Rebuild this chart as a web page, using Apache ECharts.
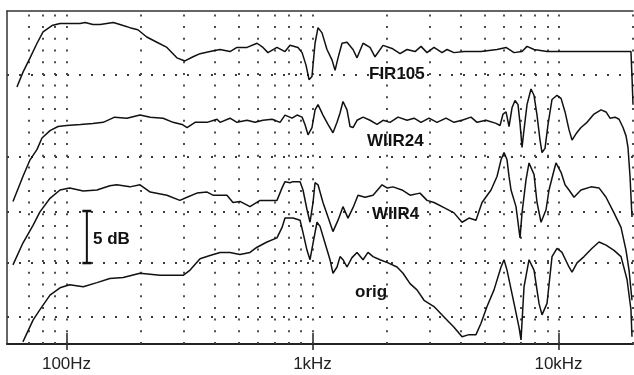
<!DOCTYPE html>
<html><head><meta charset="utf-8">
<script src="https://cdn.jsdelivr.net/npm/echarts@6/dist/echarts.min.js"></script>
<style>html,body{margin:0;padding:0;background:#fff}#c{width:634px;height:375px}</style>
</head><body><div id="c"></div>
<script>
// Frequency (Hz), level (dB, arbitrary reference)
const fir105 = [[62.9,24.7],[66.5,26.1],[71.1,27.5],[75.9,28.9],[80.3,30.0],[87.3,30.6],[94.1,30.8],[100,30.8],[113.5,30.8],[119,30.9],[128,30.7],[137,30.7],[155,30.9],[170,30.6],[181,30.4],[195,30.2],[212,29.5],[233,29.0],[256,28.5],[281,27.5],[303,27.2],[327,27.6],[349,27.9],[383,28.1],[421,28.3],[462,28.1],[493,28.5],[542,28.5],[595,28.9],[629,28.5],[659,28.0],[717,28.5],[773,28.1],[810,28.7],[873,28.5],[907,28.0],[941,26.8],[968,25.4],[995,25.7],[1024,28.9],[1053,30.4],[1093,29.9],[1145,28.3],[1200,27.3],[1235,26.3],[1270,27.5],[1318,28.9],[1381,29.0],[1461,28.3],[1517,27.5],[1605,28.9],[1713,28.5],[1795,27.6],[1935,28.7],[2105,28.4],[2269,27.9],[2422,28.3],[2611,28.1],[2761,28.6],[2921,28.0],[3118,28.5],[3361,28.0],[3522,28.3],[3760,28.0],[4130,28.1],[4842,28.1],[5623,28.3],[6118,28.5],[6595,28.0],[7107,28.1],[7447,28.6],[7950,28.3],[8980,28.1],[19700,28.1],[19890,25.7],[20080,23.0]];
const wiir24 = [[60.6,13.7],[66.5,16.1],[71.1,17.7],[75.9,18.7],[79.5,19.8],[85.7,20.5],[92.4,20.9],[100,21.0],[114,21.1],[128,21.2],[141,21.3],[157,21.8],[176,21.7],[199,22.0],[219,21.8],[247,21.7],[271,21.3],[295,21.1],[309,20.8],[333,21.3],[373,21.3],[409,21.6],[421,21.3],[462,21.7],[493,21.3],[542,21.5],[584,21.3],[629,21.5],[685,21.6],[738,21.3],[773,22.0],[826,21.7],[865,22.0],[907,21.8],[932,21.1],[959,20.1],[995,20.8],[1024,22.5],[1053,23.0],[1103,22.0],[1156,21.1],[1211,20.3],[1258,21.3],[1294,22.2],[1330,23.3],[1381,22.5],[1421,20.9],[1461,20.8],[1517,21.5],[1605,21.8],[1713,21.5],[1829,21.1],[1935,21.5],[2065,21.3],[2227,21.8],[2422,21.5],[2586,21.7],[2761,21.3],[2976,21.7],[3207,21.3],[3489,21.7],[3760,21.3],[4053,21.5],[4409,21.8],[4664,21.3],[5074,21.5],[5571,21.2],[5784,21.0],[5949,22.1],[6118,22.3],[6293,20.9],[6471,22.7],[6656,23.4],[6845,23.0],[6975,21.2],[7107,18.9],[7241,20.6],[7447,23.0],[7730,24.5],[7950,23.9],[8177,22.0],[8410,19.6],[8569,18.4],[8813,18.8],[9064,21.1],[9410,23.5],[9860,23.9],[10240,23.6],[10630,22.3],[11030,20.6],[11350,19.6],[11780,20.2],[12340,20.8],[13060,21.3],[13940,22.1],[14890,22.5],[15600,22.3],[16190,21.7],[16970,21.8],[17620,21.6],[18290,20.8],[18810,20.0],[19160,18.9],[19530,16.1],[19890,12.2]];
const wiir4 = [[60.6,7.6],[66.5,9.7],[73.1,11.4],[78.0,12.7],[85.7,14.0],[94.1,14.8],[103,15.0],[117,14.7],[133,14.8],[150,15.2],[160,15.3],[181,15.1],[199,15.3],[219,14.6],[256,14.3],[289,13.8],[309,14.1],[339,14.5],[373,14.6],[394,14.3],[449,14.3],[475,13.6],[507,13.7],[557,13.2],[612,13.8],[717,13.8],[752,15.0],[773,15.6],[810,15.5],[833,15.6],[890,15.6],[915,14.8],[950,12.9],[977,11.7],[1005,13.6],[1024,15.5],[1053,15.3],[1103,13.6],[1156,12.2],[1211,10.8],[1270,11.9],[1330,13.2],[1394,12.1],[1461,13.1],[1531,14.3],[1635,14.1],[1762,14.3],[1917,15.3],[2009,15.0],[2124,15.1],[2311,14.8],[2491,14.3],[2735,14.5],[2921,13.8],[3118,13.6],[3424,13.1],[3760,12.6],[4053,11.7],[4327,12.1],[4618,11.9],[4887,13.6],[5317,14.8],[5623,16.1],[5839,17.7],[6005,18.4],[6175,17.7],[6293,16.1],[6411,14.8],[6717,13.2],[6975,10.2],[7107,12.6],[7378,15.8],[7588,17.4],[7950,16.3],[8177,13.6],[8491,11.7],[8896,12.9],[9149,14.8],[9588,16.7],[9768,17.4],[10240,16.5],[10630,15.3],[11030,14.8],[11560,14.1],[12340,14.8],[13560,15.1],[14610,15.0],[15600,14.1],[16810,12.6],[17950,11.2],[18810,9.0],[19350,7.1],[19890,4.2]];
const orig = [[66.5,0.2],[73.1,2.3],[78.0,3.3],[85.7,4.7],[94.1,5.4],[103,5.7],[117,5.5],[133,5.9],[150,6.3],[170,6.4],[199,6.8],[240,6.6],[298,6.6],[318,7.1],[349,8.2],[383,8.5],[421,8.8],[462,8.8],[507,8.6],[557,8.8],[595,9.3],[653,9.8],[717,10.2],[752,11.2],[773,12.1],[833,12.1],[890,11.9],[915,10.7],[950,9.0],[977,8.1],[1005,9.7],[1043,11.7],[1073,11.3],[1124,9.7],[1178,8.1],[1211,6.8],[1258,7.4],[1294,8.4],[1330,8.1],[1381,7.4],[1447,8.3],[1517,8.8],[1605,8.1],[1681,8.8],[1762,8.4],[1881,8.1],[2027,7.8],[2206,7.4],[2333,6.8],[2491,5.8],[2659,5.2],[2840,4.2],[3118,3.6],[3424,2.6],[3760,1.6],[4053,0.7],[4327,0.9],[4618,0.9],[4842,2.0],[5121,3.6],[5468,5.2],[5839,7.4],[6005,8.1],[6175,7.1],[6595,3.9],[6910,1.6],[7041,0.4],[7241,5.5],[7588,8.1],[7950,7.1],[8332,3.9],[8569,2.8],[8980,3.9],[9410,8.4],[9860,9.2],[10330,8.8],[11030,7.4],[11350,6.9],[11890,7.8],[12700,8.4],[13690,9.2],[14610,9.8],[15600,9.5],[16810,9.0],[17950,8.4],[18990,6.2],[19700,3.3],[19890,0.7]];
const scaleBar = [[121,12.78],[121,7.78]];
const scaleText = '5 dB';
const curveNames = ['FIR105','WIIR24','WIIR4','orig'];
const gridFreqs = [70,80,90,100,200,300,400,500,600,700,800,900,1000,2000,3000,4000,5000,6000,7000,8000,9000,10000,20000];
const gridRows = [25.85,17.97,12.73,7.78,2.64];
const tickValues = [100,1000,10000];
const tickLabels = ['100Hz','1kHz','10kHz'];

const chart = echarts.init(document.getElementById('c'), null, {renderer:'canvas'});
const ink = '#111';
function lbl(v){let best=0;for(let i=0;i<tickValues.length;i++){if(Math.abs(Math.log10(v)-Math.log10(tickValues[i]))<Math.abs(Math.log10(v)-Math.log10(tickValues[best])))best=i;}return tickLabels[best];}
const axisBase = {type:'log', logBase:10, min:57.3, max:20080, splitLine:{show:false}, minorTick:{show:false}};
const curve = (name,data)=>({name, type:'line', data, showSymbol:false, symbol:'none', smooth:false, lineStyle:{color:ink, width:1.5}, animation:false, silent:true, z:5});
const labelFont = {fontFamily:'Liberation Sans, Arial, sans-serif', fontWeight:'bold', fontSize:17, fill:'#111'};
chart.setOption({
  animation:false,
  backgroundColor:'#fff',
  grid:{left:7, right:1, top:11, bottom:31, containLabel:false},
  xAxis:[
    Object.assign({}, axisBase, {position:'bottom',
      axisLine:{show:true, lineStyle:{color:'#222', width:2}},
      axisTick:{show:true, inside:false, length:6, customValues:tickValues, lineStyle:{color:'#222', width:1.5}},
      axisLabel:{show:true, customValues:tickValues, margin:12, fontSize:17, color:'#222', fontFamily:'Liberation Sans, Arial, sans-serif', formatter:(v)=>lbl(v)}}),
    Object.assign({}, axisBase, {position:'bottom',
      axisLine:{show:false},
      axisTick:{show:true, inside:true, length:11, customValues:tickValues, lineStyle:{color:'#222', width:1.5}},
      axisLabel:{show:false}}),
    Object.assign({}, axisBase, {position:'top',
      axisLine:{show:true, lineStyle:{color:'#333', width:1.5}},
      axisTick:{show:false}, axisLabel:{show:false}})
  ],
  yAxis:{type:'value', min:0, max:32, splitLine:{show:false}, axisTick:{show:false}, axisLabel:{show:false},
    axisLine:{show:true, lineStyle:{color:'#333', width:1.5}}},
  series:[
    {name:'scale', type:'line', data:scaleBar, symbol:'rect', symbolSize:[9,2.5], showSymbol:true,
      itemStyle:{color:ink}, lineStyle:{color:ink, width:2}, animation:false, silent:true, z:4,
      markLine:{silent:true, symbol:['none','none'], label:{show:false}, animation:false,
        data: gridFreqs.map(f=>({xAxis:f, lineStyle:{type:[2,9.7], width:1.8, color:'#3a3a3a'}}))
          .concat(gridRows.map(v=>({yAxis:v, lineStyle:{type:[2,10], width:1.8, color:'#3a3a3a'}})))}},
    curve(curveNames[0], fir105),
    curve(curveNames[1], wiir24),
    curve(curveNames[2], wiir4),
    curve(curveNames[3], orig)
  ],
  graphic:[
    {type:'text', x:369, y:74, style:Object.assign({text:curveNames[0], verticalAlign:'middle'}, labelFont)},
    {type:'text', x:367, y:141, style:Object.assign({text:curveNames[1], verticalAlign:'middle'}, labelFont)},
    {type:'text', x:372, y:214, style:Object.assign({text:curveNames[2], verticalAlign:'middle'}, labelFont)},
    {type:'text', x:355, y:292, style:Object.assign({text:curveNames[3], verticalAlign:'middle'}, labelFont)},
    {type:'text', x:93, y:239, style:Object.assign({text:scaleText, verticalAlign:'middle'}, labelFont)}
  ]
});
</script></body></html>
